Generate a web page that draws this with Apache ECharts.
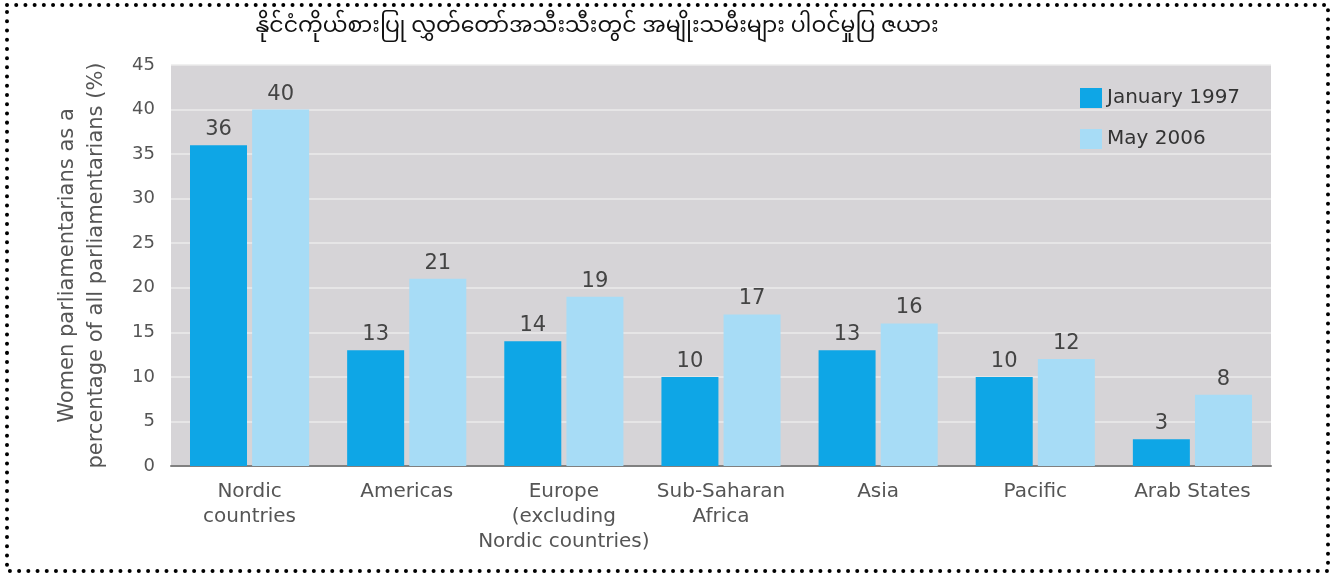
<!DOCTYPE html>
<html><head><meta charset="utf-8">
<script src="https://cdn.jsdelivr.net/npm/echarts@6/dist/echarts.min.js"></script>
<style>html,body{margin:0;padding:0;background:#fff;}#c{width:1335px;height:576px;}</style>
</head><body><div id="c"></div>
<script>
const categories = ['Nordic\ncountries','Americas','Europe\n(excluding\nNordic countries)','Sub-Saharan\nAfrica','Asia','Pacific','Arab States'];
const jan1997 = [36,13,14,10,13,10,3];
const may2006 = [40,21,19,17,16,12,8];
const seriesNames = ['January 1997','May 2006'];
const titleText = 'နိုင်ငံကိုယ်စားပြု လွှတ်တော်အသီးသီးတွင် အမျိုးသမီးများ ပါဝင်မှုပြ ဇယား';
const yName = 'Women parliamentarians as a\npercentage of all parliamentarians (%)';

const font = '"DejaVu Sans", Verdana, sans-serif';
const chart = echarts.init(document.getElementById('c'));
const labelStyle = {show:true, position:'top', color:'#444', fontSize:21, fontFamily:font, distance:5};
chart.setOption({
  animation:false,
  title:{text:titleText, left:592, top:14, textAlign:'center',
    textStyle:{fontSize:22, fontWeight:'normal', color:'#111', fontFamily:'"Noto Sans Myanmar","Noto Sans", sans-serif'}},
  graphic:[{type:'rect', shape:{x:7, y:5, width:1321, height:566},
    style:{fill:'none', stroke:'#000', lineWidth:4, lineDash:[0.01,9.2], lineCap:'round'}, z:100}],
  legend:{orient:'vertical', left:1075, top:83, itemWidth:22, itemHeight:20, itemGap:21,
    icon:'rect', textStyle:{fontSize:20, color:'#333', fontFamily:font}, data:seriesNames},
  grid:{left:171, right:64, top:65, bottom:110, show:true, backgroundColor:'#d6d4d7', borderWidth:0},
  xAxis:{type:'category', data:categories,
    axisLine:{show:true, lineStyle:{color:'#808080', width:2}}, axisTick:{show:false},
    axisLabel:{color:'#555', fontSize:20, fontFamily:font, lineHeight:25, margin:13, interval:0}},
  yAxis:{type:'value', min:0, max:45, interval:5,
    name:yName, nameLocation:'middle', nameGap:60, nameRotate:90,
    nameTextStyle:{color:'#555', fontSize:21, fontFamily:font, lineHeight:29},
    axisLine:{show:false}, axisTick:{show:false},
    axisLabel:{color:'#555', fontSize:18, fontFamily:font, margin:16},
    splitLine:{show:true, lineStyle:{color:'#ebebeb', width:1.5}}},
  series:[
    {name:seriesNames[0], type:'bar', data:jan1997, barWidth:57, barGap:'9%', itemStyle:{color:'#0ea6e6'}, label:labelStyle},
    {name:seriesNames[1], type:'bar', data:may2006, barWidth:57, itemStyle:{color:'#a7dcf6'}, label:labelStyle}
  ]
});
</script></body></html>
